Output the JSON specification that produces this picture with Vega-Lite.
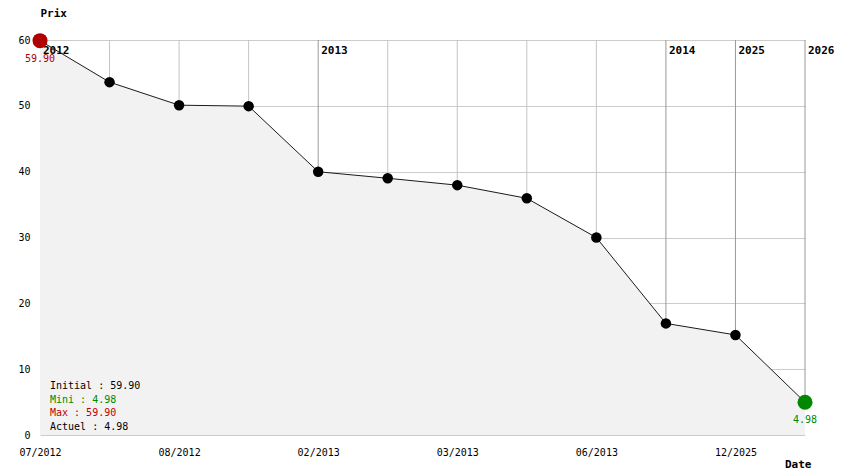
{
  "$schema": "https://vega.github.io/schema/vega-lite/v6.json",
  "width": 765,
  "height": 395,
  "autosize": {"type": "none"},
  "padding": {"left": 40, "top": 40, "right": 39, "bottom": 39},
  "background": "white",
  "config": {
    "view": {"stroke": null},
    "font": "DejaVu Sans Mono",
    "text": {"font": "DejaVu Sans Mono", "fontSize": 10},
    "axis": {"labelFont": "DejaVu Sans Mono", "titleFont": "DejaVu Sans Mono", "labelFontSize": 10, "labelColor": "#000", "titleColor": "#000"}
  },
  "data": {
    "values": [
      {"i": 0, "date": "07/2012", "prix": 59.90, "an": "2012"},
      {"i": 1, "date": "07/2012", "prix": 53.6},
      {"i": 2, "date": "08/2012", "prix": 50.1},
      {"i": 3, "date": "08/2012", "prix": 49.95},
      {"i": 4, "date": "02/2013", "prix": 39.99, "an": "2013"},
      {"i": 5, "date": "02/2013", "prix": 39.0},
      {"i": 6, "date": "03/2013", "prix": 37.95},
      {"i": 7, "date": "03/2013", "prix": 35.95},
      {"i": 8, "date": "06/2013", "prix": 29.99},
      {"i": 9, "date": "01/2014", "prix": 16.95, "an": "2014"},
      {"i": 10, "date": "12/2025", "prix": 15.2, "an": "2025"},
      {"i": 11, "date": "01/2026", "prix": 4.98, "an": "2026"}
    ]
  },
  "layer": [
    {
      "mark": {"type": "area", "color": "#f2f2f2"},
      "encoding": {
        "x": {
          "field": "i", "type": "quantitative",
          "scale": {"domain": [0, 11], "nice": false, "zero": false},
          "axis": {
            "values": [0, 2, 4, 6, 8, 10],
            "labelExpr": "['07/2012','07/2012','08/2012','08/2012','02/2013','02/2013','03/2013','03/2013','06/2013','01/2014','12/2025','01/2026'][datum.value]",
            "grid": false, "ticks": false, "domain": false,
            "labelPadding": 12, "labelFlush": false,
            "title": "Date", "titleFontSize": 11, "titleFontWeight": "bold",
            "titleX": 771, "titleY": 32, "titleAlign": "right", "titleBaseline": "alphabetic"
          }
        },
        "y": {
          "field": "prix", "type": "quantitative",
          "scale": {"domain": [0, 60], "nice": false},
          "axis": {
            "values": [0, 10, 20, 30, 40, 50, 60],
            "grid": true, "gridColor": "#cccccc", "gridOpacity": 1,
            "ticks": false, "domain": false, "labelPadding": 10,
            "title": "Prix", "titleAngle": 0, "titleFontSize": 11, "titleFontWeight": "bold",
            "titleX": 0, "titleY": -27, "titleAlign": "left", "titleBaseline": "middle"
          }
        }
      }
    },
    {
      "mark": {"type": "rule", "strokeWidth": 1},
      "encoding": {
        "x": {"field": "i", "type": "quantitative"},
        "y": {"field": "prix", "type": "quantitative"},
        "y2": {"datum": 60},
        "color": {"condition": {"test": "datum.an", "value": "#999999"}, "value": "#c4c4c4"}
      }
    },
    {
      "transform": [{"filter": "datum.an"}],
      "mark": {"type": "text", "align": "left", "baseline": "top", "dx": 3, "dy": 5, "fontSize": 11, "fontWeight": "bold", "color": "#000"},
      "encoding": {
        "x": {"field": "i", "type": "quantitative"},
        "y": {"datum": 60, "type": "quantitative"},
        "text": {"field": "an", "type": "nominal"}
      }
    },
    {
      "mark": {"type": "line", "color": "#1a1a1a", "strokeWidth": 1},
      "encoding": {
        "x": {"field": "i", "type": "quantitative"},
        "y": {"field": "prix", "type": "quantitative"}
      }
    },
    {
      "transform": [{"filter": "datum.i > 0 && datum.i < 11"}],
      "mark": {"type": "circle", "color": "#000", "opacity": 1, "size": 110},
      "encoding": {
        "x": {"field": "i", "type": "quantitative"},
        "y": {"field": "prix", "type": "quantitative"}
      }
    },
    {
      "transform": [{"filter": "datum.i == 0 || datum.i == 11"}],
      "mark": {"type": "circle", "opacity": 1, "size": 225},
      "encoding": {
        "x": {"field": "i", "type": "quantitative"},
        "y": {"field": "prix", "type": "quantitative"},
        "color": {"condition": {"test": "datum.i == 0", "value": "#b00000"}, "value": "#008800"}
      }
    },
    {
      "transform": [{"filter": "datum.i == 0 || datum.i == 11"}],
      "mark": {"type": "text", "align": "center", "baseline": "middle", "dy": 18, "fontSize": 10},
      "encoding": {
        "x": {"field": "i", "type": "quantitative"},
        "y": {"field": "prix", "type": "quantitative"},
        "text": {"field": "prix", "type": "quantitative", "format": ".2f"},
        "color": {"condition": {"test": "datum.i == 0", "value": "#b00000"}, "value": "#008800"}
      }
    },
    {
      "data": {"values": [{"t": "Initial : 59.90"}]},
      "mark": {"type": "text", "align": "left", "baseline": "middle", "dx": 10, "fontSize": 10, "color": "#000"},
      "encoding": {"x": {"datum": 0, "type": "quantitative"}, "y": {"datum": 7.4, "type": "quantitative"}, "text": {"field": "t", "type": "nominal"}}
    },
    {
      "data": {"values": [{"t": "Mini : 4.98"}]},
      "mark": {"type": "text", "align": "left", "baseline": "middle", "dx": 10, "fontSize": 10, "color": "#008800"},
      "encoding": {"x": {"datum": 0, "type": "quantitative"}, "y": {"datum": 5.3, "type": "quantitative"}, "text": {"field": "t", "type": "nominal"}}
    },
    {
      "data": {"values": [{"t": "Max : 59.90"}]},
      "mark": {"type": "text", "align": "left", "baseline": "middle", "dx": 10, "fontSize": 10, "color": "#c00000"},
      "encoding": {"x": {"datum": 0, "type": "quantitative"}, "y": {"datum": 3.3, "type": "quantitative"}, "text": {"field": "t", "type": "nominal"}}
    },
    {
      "data": {"values": [{"t": "Actuel : 4.98"}]},
      "mark": {"type": "text", "align": "left", "baseline": "middle", "dx": 10, "fontSize": 10, "color": "#000"},
      "encoding": {"x": {"datum": 0, "type": "quantitative"}, "y": {"datum": 1.2, "type": "quantitative"}, "text": {"field": "t", "type": "nominal"}}
    }
  ]
}
